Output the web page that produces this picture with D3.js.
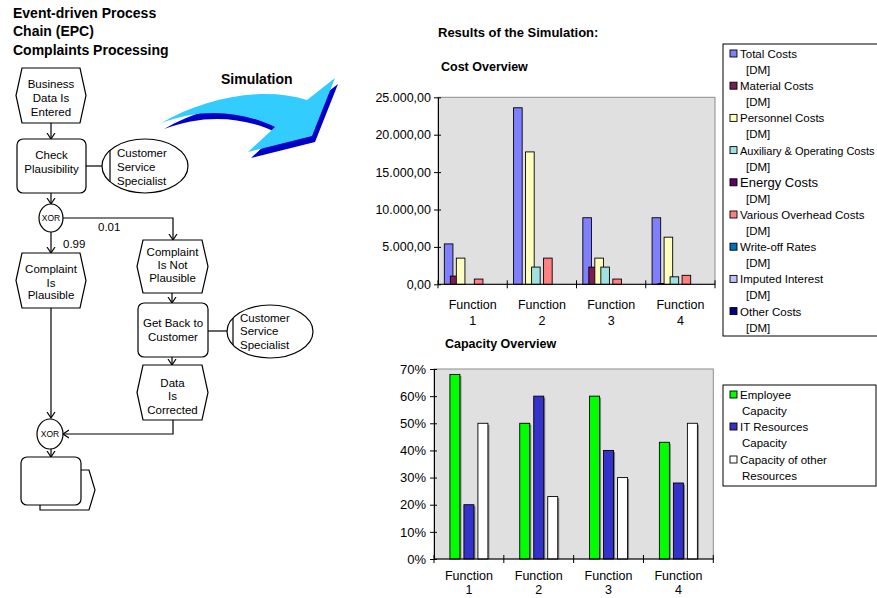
<!DOCTYPE html>
<html>
<head>
<meta charset="utf-8">
<script src="https://cdn.jsdelivr.net/npm/d3@7"></script>
<style>
  body { margin: 0; background: #fff; }
  svg text { font-family: "Liberation Sans", Arial, sans-serif; fill: #000; }
</style>
</head>
<body>
<div id="chart"></div>
<script>
// Chart data
const functions = ["1", "2", "3", "4"];

const costSeries = ["Total Costs", "Material Costs", "Personnel Costs", "Auxiliary & Operating Costs",
  "Energy Costs", "Various Overhead Costs", "Write-off Rates", "Imputed Interest", "Other Costs"];
const costColors = ["#8080ff", "#7a1f52", "#ffffc0", "#a0e0e0", "#600060", "#ff8080", "#0070c0", "#c0c0ff", "#000080"];
const totalCosts = [5400, 23600, 8900, 8900];
const materialCosts = [1100, 0, 2300, 100];
const personnelCosts = [3500, 17700, 3500, 6300];
const auxiliaryCosts = [0, 2300, 2300, 1000];
const energyCosts = [0, 0, 0, 0];
const overheadCosts = [700, 3500, 700, 1200];
const writeOffRates = [0, 0, 0, 0];
const imputedInterest = [0, 0, 0, 0];
const otherCosts = [0, 0, 0, 0];
const costTicks = [0, 5000, 10000, 15000, 20000, 25000];

const capSeries = ["Employee Capacity", "IT Resources Capacity", "Capacity of other Resources"];
const capColors = ["#00ff00", "#3333cc", "#ffffff"];
const employeeCap = [0.68, 0.50, 0.60, 0.43];
const itCap = [0.20, 0.60, 0.40, 0.28];
const otherCap = [0.50, 0.23, 0.30, 0.50];
const capTicks = [0, 0.1, 0.2, 0.3, 0.4, 0.5, 0.6, 0.7];

const costValues = [totalCosts, materialCosts, personnelCosts, auxiliaryCosts, energyCosts,
  overheadCosts, writeOffRates, imputedInterest, otherCosts];
const capValues = [employeeCap, itCap, otherCap];

const W = 877, H = 598;
const svg = d3.select("#chart").append("svg").attr("width", W).attr("height", H);

const de = d3.formatLocale({ decimal: ",", thousands: ".", grouping: [3], currency: ["", " DM"] });
const fmtCost = de.format(",.2f");
const fmtPct = d3.format(".0%");

// ---------- EPC diagram ----------
const epc = svg.append("g");
const font = 11.5;

[["Event-driven Process", 18], ["Chain (EPC)", 36], ["Complaints Processing", 55]].forEach(([t, y]) =>
  epc.append("text").attr("x", 13).attr("y", y).attr("font-size", 14).attr("font-weight", "bold").text(t));

svg.append("defs").append("marker")
    .attr("id", "vee").attr("viewBox", "-6 -6 12 12").attr("markerWidth", 12).attr("markerHeight", 12)
    .attr("markerUnits", "userSpaceOnUse").attr("refX", 0).attr("refY", 0).attr("orient", "auto")
  .append("path").attr("d", "M-6,-4 L0,0 L-6,4").attr("fill", "none").attr("stroke", "#000").attr("stroke-width", 1.2);

function hexagon(x0, y0, x1, y1, lines, ys) {
  const ym = (y0 + y1) / 2, d = 6;
  epc.append("path")
      .attr("d", `M${x0},${ym} L${x0 + d},${y0} L${x1 - d},${y0} L${x1},${ym} L${x1 - d},${y1} L${x0 + d},${y1} Z`)
      .attr("fill", "#fff").attr("stroke", "#000").attr("stroke-width", 1.2);
  lines.forEach((t, i) => epc.append("text").attr("x", (x0 + x1) / 2).attr("y", ys[i])
      .attr("text-anchor", "middle").attr("font-size", font).text(t));
}
function funcBox(x0, y0, x1, y1, lines, ys) {
  epc.append("rect").attr("x", x0).attr("y", y0).attr("width", x1 - x0).attr("height", y1 - y0)
      .attr("rx", 6).attr("fill", "#fff").attr("stroke", "#000").attr("stroke-width", 1.2);
  lines.forEach((t, i) => epc.append("text").attr("x", (x0 + x1) / 2).attr("y", ys[i])
      .attr("text-anchor", "middle").attr("font-size", font).text(t));
}
function orgUnit(cx, cy, rx, ry, lx, ys) {
  epc.append("ellipse").attr("cx", cx).attr("cy", cy).attr("rx", rx).attr("ry", ry)
      .attr("fill", "#fff").attr("stroke", "#000").attr("stroke-width", 1.2);
  const dy = ry * Math.sqrt(1 - Math.pow((lx - cx) / rx, 2));
  epc.append("line").attr("x1", lx).attr("x2", lx).attr("y1", cy - dy).attr("y2", cy + dy)
      .attr("stroke", "#000").attr("stroke-width", 1.2);
  ["Customer", "Service", "Specialist"].forEach((t, i) =>
    epc.append("text").attr("x", lx + 7).attr("y", ys[i]).attr("font-size", font).text(t));
}
function xor(cx, cy, rx, ry) {
  epc.append("ellipse").attr("cx", cx).attr("cy", cy).attr("rx", rx).attr("ry", ry)
      .attr("fill", "#fff").attr("stroke", "#000").attr("stroke-width", 1.2);
  epc.append("text").attr("x", cx).attr("y", cy + 3).attr("text-anchor", "middle")
      .attr("font-size", 8.5).text("XOR");
}
function connector(pts, arrow) {
  epc.append("path").attr("d", d3.line()(pts)).attr("fill", "none")
      .attr("stroke", "#000").attr("stroke-width", 1.2)
      .attr("marker-end", arrow ? "url(#vee)" : null);
}

// connectors first, shapes on top
connector([[51, 123], [51, 139]], true);
connector([[86, 166], [102, 166]], false);
connector([[51, 193], [51, 204]], true);
connector([[63, 218], [173, 218], [173, 240]], true);
connector([[51, 232], [51, 253]], true);
connector([[51, 308], [51, 418]], true);
connector([[172, 293], [172, 303]], true);
connector([[208, 331], [227, 331]], false);
connector([[172, 357], [172, 365]], true);
connector([[173, 420], [173, 434], [63, 434]], true);
connector([[51, 449], [51, 457]], true);

hexagon(16, 68, 86, 123, ["Business", "Data Is", "Entered"], [88, 102, 116]);
funcBox(17, 139, 86, 193, ["Check", "Plausibility"], [159, 173]);
orgUnit(145, 166, 43, 27, 110, [157, 171, 185]);
xor(51, 218, 12, 14);
epc.append("text").attr("x", 98).attr("y", 231).attr("font-size", font).text("0.01");
epc.append("text").attr("x", 63).attr("y", 248).attr("font-size", font).text("0.99");
hexagon(16, 253, 86, 308, ["Complaint", "Is", "Plausible"], [273, 286.5, 299]);
hexagon(137, 240, 208, 293, ["Complaint", "Is Not", "Plausible"], [256, 269, 282]);
funcBox(138, 303, 208, 357, ["Get Back to", "Customer"], [327, 341]);
orgUnit(270, 331.5, 43, 26.5, 233, [321.5, 335, 349]);
hexagon(137, 365, 208, 420, ["Data", "Is", "Corrected"], [387, 400, 414]);
xor(50, 434, 13, 15);

// process interface behind last function
epc.append("path").attr("d", "M40,470 L89,470 L95,490 L89,510 L40,510 Z")
    .attr("fill", "#fff").attr("stroke", "#000").attr("stroke-width", 1.2);
funcBox(21, 457, 81, 505, [], []);

// Simulation arrow
epc.append("text").attr("x", 221).attr("y", 84).attr("font-size", 14).attr("font-weight", "bold").text("Simulation");
const arrowPath = "M161,123 C205,98 262,86 307,100 L335,78 L312,136 L248,152 L275,127 C240,110 200,108 161,123 Z";
epc.append("path").attr("d", arrowPath).attr("transform", "translate(3,6)").attr("fill", "#0000c8");
epc.append("path").attr("d", arrowPath).attr("fill", "#33ccff");

// ---------- Titles ----------
svg.append("text").attr("x", 438).attr("y", 37).attr("font-size", 13).attr("font-weight", "bold")
    .text("Results of the Simulation:");
svg.append("text").attr("x", 441).attr("y", 71).attr("font-size", 12.5).attr("font-weight", "bold")
    .text("Cost Overview");
svg.append("text").attr("x", 445).attr("y", 348).attr("font-size", 12.5).attr("font-weight", "bold")
    .text("Capacity Overview");

// ---------- Bar chart helper ----------
function barChart(opt) {
  const g = svg.append("g");
  const x0 = d3.scaleBand().domain(functions).range([opt.left, opt.right]);
  const x1 = d3.scaleBand().domain(d3.range(opt.values.length)).range([0, opt.step * opt.values.length]);
  const y = d3.scaleLinear().domain(opt.domain).range([opt.bottom, opt.top]);
  const groupW = opt.step * (opt.values.length - 1) + opt.barW;
  const off = (x0.bandwidth() - groupW) / 2;

  g.append("rect").attr("x", opt.left).attr("y", opt.top)
      .attr("width", opt.right - opt.left).attr("height", opt.bottom - opt.top)
      .attr("fill", "#e0e0e0").attr("stroke", "#8c8c8c").attr("stroke-width", 1);

  opt.values.forEach((vals, s) => {
    if (opt.shadow) {
      g.selectAll(null).data(vals).join("rect")
          .attr("x", (d, i) => x0(functions[i]) + off + x1(s) + 1.5)
          .attr("y", d => y(d) + 1.5)
          .attr("width", opt.barW).attr("height", d => Math.max(0, y(0) - y(d) - 1.5))
          .attr("fill", "#808080");
    }
    g.selectAll(null).data(vals).join("rect")
        .attr("x", (d, i) => x0(functions[i]) + off + x1(s))
        .attr("y", d => y(d))
        .attr("width", opt.barW).attr("height", d => y(0) - y(d))
        .attr("fill", opt.colors[s]).attr("stroke", "#000").attr("stroke-width", 0.9)
        .style("display", d => d > 0 ? null : "none");
  });

  // axes
  const ax = g.append("g").attr("transform", `translate(${opt.left},0)`)
      .call(d3.axisLeft(y).tickValues(opt.ticks).tickFormat(opt.fmt).tickSizeInner(4).tickSizeOuter(0).tickPadding(opt.pad));
  ax.select(".domain").attr("stroke", "#000");
  ax.selectAll(".tick line").attr("x2", -4).attr("x1", 3).attr("stroke", "#000");
  ax.selectAll("text").attr("font-size", opt.ySize).attr("fill", "#000")
      .attr("font-family", "Liberation Sans, Arial, sans-serif");

  g.append("line").attr("x1", opt.left).attr("x2", opt.right).attr("y1", opt.bottom).attr("y2", opt.bottom)
      .attr("stroke", "#000");
  const bounds = functions.map(f => x0(f)).concat([opt.right]);
  g.selectAll(null).data(bounds).join("line")
      .attr("x1", d => d).attr("x2", d => d).attr("y1", opt.bottom - 4).attr("y2", opt.bottom + 4)
      .attr("stroke", "#000");
  functions.forEach(f => {
    const cx = x0(f) + x0.bandwidth() / 2;
    g.append("text").attr("x", cx).attr("y", opt.bottom + opt.lab1).attr("text-anchor", "middle")
        .attr("font-size", 12.5).text("Function");
    g.append("text").attr("x", cx).attr("y", opt.bottom + opt.lab2).attr("text-anchor", "middle")
        .attr("font-size", 12.5).text(f);
  });
}

barChart({ left: 438, right: 715, top: 97.3, bottom: 284.3, domain: [0, 25000], ticks: costTicks,
  fmt: fmtCost, values: costValues, colors: costColors, step: 6, barW: 8.6, ySize: 12.5, pad: 3,
  shadow: false, lab1: 25, lab2: 41 });

barChart({ left: 434, right: 713.3, top: 369, bottom: 559, domain: [0, 0.7], ticks: capTicks,
  fmt: fmtPct, values: capValues, colors: capColors, step: 14, barW: 10, ySize: 13, pad: 4,
  shadow: true, lab1: 21, lab2: 35 });

// ---------- Legends ----------
function legend(x, y, w, h, names, colors, items) {
  const g = svg.append("g");
  g.append("rect").attr("x", x).attr("y", y).attr("width", w).attr("height", h)
      .attr("fill", "#fff").attr("stroke", "#000").attr("stroke-width", 1);
  items.forEach((it, i) => {
    g.append("rect").attr("x", x + 7).attr("y", it.y - 4).attr("width", 7).attr("height", 7)
        .attr("fill", colors[i]).attr("stroke", "#000").attr("stroke-width", 0.9);
    g.append("text").attr("x", x + 17).attr("y", it.y + 4).attr("font-size", it.size || 11.5).text(it.l1);
    g.append("text").attr("x", x + it.indent).attr("y", it.y + 20).attr("font-size", 11.5).text(it.l2);
  });
}

legend(723, 44, 170, 292, costSeries, costColors, costSeries.map((n, i) => ({
  y: 54 + i * 32.2,
  l1: n, l2: "[DM]", indent: 23,
  size: n === "Energy Costs" ? 13 : (n.length > 22 ? 11 : 11.5)
})));

legend(723, 385, 153, 101, capSeries, capColors, [
  { y: 395, l1: "Employee", l2: "Capacity", indent: 19 },
  { y: 427, l1: "IT Resources", l2: "Capacity", indent: 19 },
  { y: 460, l1: "Capacity of other", l2: "Resources", indent: 19 }
]);
</script>
</body>
</html>
